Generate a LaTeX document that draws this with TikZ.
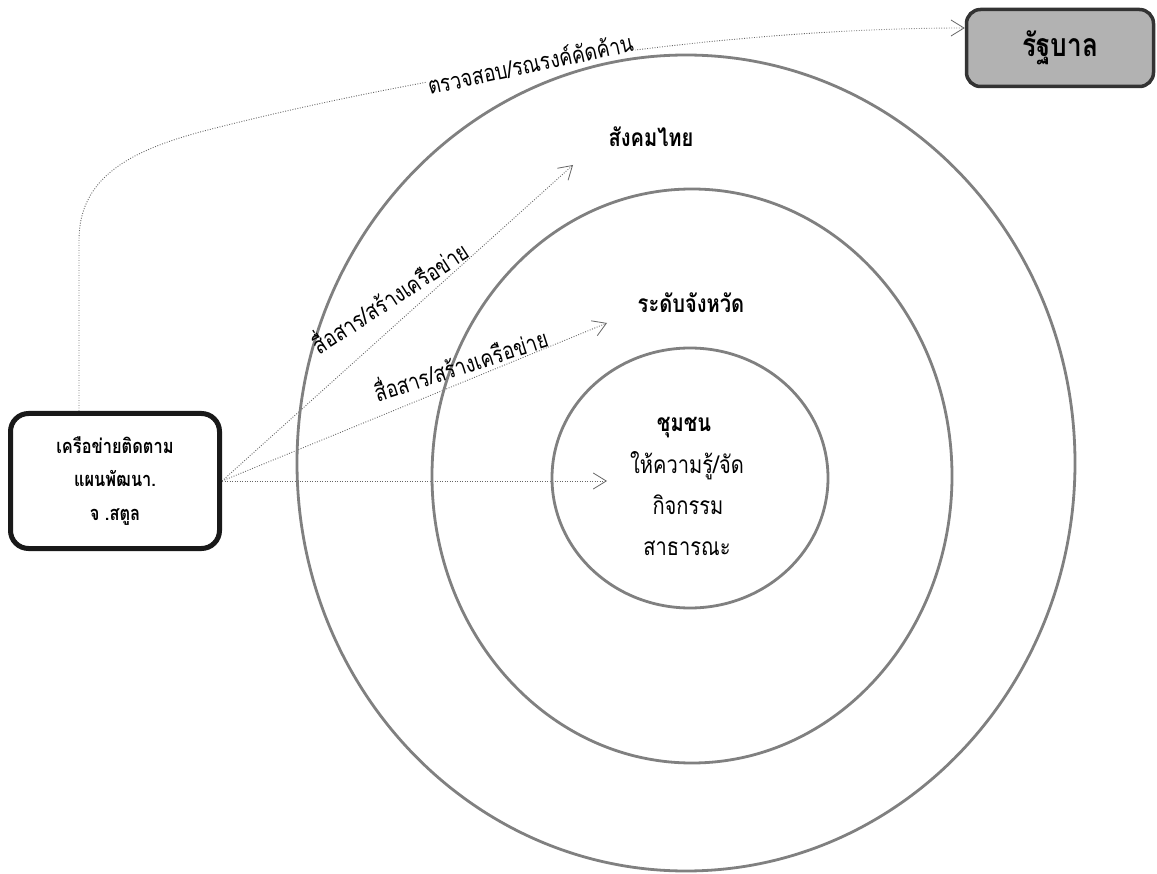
\documentclass[tikz,border=0pt]{standalone}
\usepackage{fontspec}
\newfontfamily\thai[Script=Thai,FakeStretch=0.82]{Loma}
\usetikzlibrary{arrows.meta}
\begin{document}
\begin{tikzpicture}[x=1pt,y=1pt,
  ring/.style={draw=black!50, line width=2.8pt},
  link/.style={draw=black!60, line width=0.9pt, dash pattern=on 0.9pt off 1.6pt,
    -{Straight Barb[length=13pt,width=16pt,line width=0.8pt]}},
  lbl/.style={font=\thai\fontsize{23.5}{25}\selectfont, inner sep=1pt},
  txt/.style={font=\thai\fontsize{24.5}{26}\selectfont, inner sep=0pt},
  ttl/.style={font=\thai\bfseries\fontsize{24.5}{26}\selectfont, inner sep=0pt},
]
\fill[white] (0,0) rectangle (1157,-874);
\useasboundingbox (0,0) rectangle (1157,-874);

% boxes
\node[draw=black!90, line width=5pt, rounded corners=18pt,
  minimum width=209pt, minimum height=135pt, align=center,
  font=\thai\bfseries\fontsize{20}{33.5}\selectfont] (net) at (115,-481)
  {เครือข่ายติดตาม\\แผนพัฒนา.\\จ .สตูล};
\node[draw=black!80, fill=black!30, line width=3.5pt, rounded corners=14pt,
  minimum width=187pt, minimum height=77pt,
  font=\thai\bfseries\fontsize{32}{34}\selectfont] (gov) at (1060,-48) {รัฐบาล};

% connector end points
\coordinate (govin) at ([yshift=20pt]gov.west);
\coordinate (tipA) at (573,-165);
\coordinate (tipB) at (607,-323);
\coordinate (tipC) at (607,-481);

% connectors
\draw[link] ([xshift=-36pt]net.north) -- (79,-240)
  .. controls (79,-175) and (135,-150) .. (200,-132)
  .. controls (400,-80) and (700,-28) .. (govin);
\draw[link] (net.east) -- (tipA);
\draw[link] (net.east) -- (tipB);
\draw[link] (net.east) -- (tipC);

\node[lbl, fill=white, rotate=12] (lblgov) at (530,-63) {ตรวจสอบ/รณรงค์คัดค้าน};

% rings
\draw[ring] (686,-463) ellipse [x radius=389pt, y radius=408pt];
\draw[ring] (692,-476) ellipse [x radius=260pt, y radius=287pt];
\draw[ring] (690,-478) ellipse [x radius=138pt, y radius=130pt];

% labels
\node[lbl, rotate=33] (lblA) at (389,-296) {สื่อสาร/สร้างเครือข่าย};
\node[lbl, rotate=18] (lblB) at (460,-363) {สื่อสาร/สร้างเครือข่าย};

\node[ttl, anchor=base] (soc) at (651,-147) {สังคมไทย};
\node[ttl, anchor=base] (prov) at (691,-313) {ระดับจังหวัด};
\node[ttl, anchor=base] (comm) at (684,-432) {ชุมชน};
\node[txt, anchor=base] (c1) at (687,-473) {ให้ความรู้/จัด};
\node[txt, anchor=base] (c2) at (688,-514) {กิจกรรม};
\node[txt, anchor=base] (c3) at (687,-555) {สาธารณะ};
\end{tikzpicture}
\end{document}
